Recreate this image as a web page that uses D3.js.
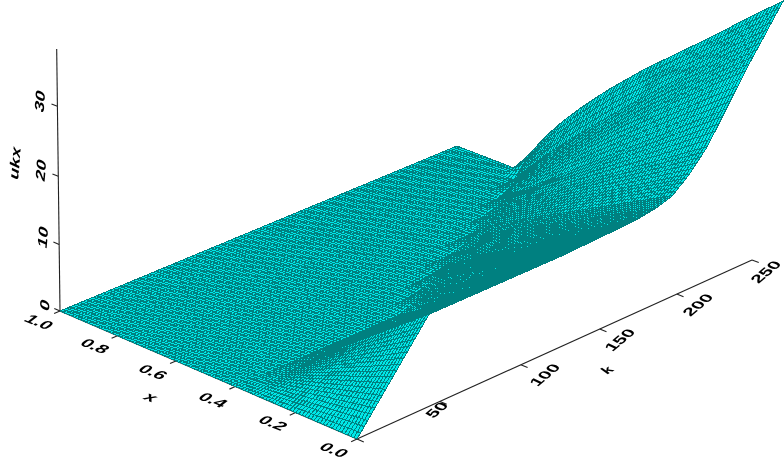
<!DOCTYPE html>
<html><head><meta charset="utf-8">
<script src="https://cdn.jsdelivr.net/npm/d3@7"></script>
<style>html,body{margin:0;padding:0;background:#fff}svg{display:block}
text{font-family:"Liberation Sans",Arial,sans-serif;font-weight:bold;fill:#000;text-anchor:middle;dominant-baseline:central}</style>
</head><body><script>
const kValues=[0,10,20,30,40,50,60,70,80,90,100,110,120,130,140,150,160,170,180,190,200,210,220,230,240,250];
const xValues=[0,.05,.1,.15,.2,.25,.3,.35,.4,.45,.5,.55,.6,.65,.7,.75,.8,.85,.9,.95,1];
const uRows=[
[0,0,0,0,0,0,0,0,0,0,0,0,0,0,0,0,0,0,0,0,0],
[3.5,3.04,2.58,2.12,1.66,1.2,.74,.28,0,0,0,0,0,0,0,0,0,0,0,0,0],
[7,6.08,5.16,4.24,3.32,2.39,1.47,.55,0,0,0,0,0,0,0,0,0,0,0,0,0],
[10.5,9.12,7.74,6.36,4.97,3.59,2.21,.83,0,0,0,0,0,0,0,0,0,0,0,0,0],
[14,12.16,10.32,8.47,6.63,4.79,2.95,1.11,0,0,0,0,0,0,0,0,0,0,0,0,0],
[14,12.16,10.32,8.47,6.63,4.79,2.95,1.11,0,0,0,0,0,0,0,0,0,0,0,0,0],
[14,12.16,10.32,8.47,6.63,4.79,2.95,1.11,0,0,0,0,0,0,0,0,0,0,0,0,0],
[14,12.16,10.32,8.47,6.63,4.79,2.95,1.11,0,0,0,0,0,0,0,0,0,0,0,0,0],
[14,12.16,10.32,8.47,6.63,4.79,2.95,1.11,0,0,0,0,0,0,0,0,0,0,0,0,0],
[14,12.16,10.32,8.47,6.63,4.79,2.95,1.11,0,0,0,0,0,0,0,0,0,0,0,0,0],
[14,12.2,10.4,8.6,6.8,5.1,3.3,1.5,0,0,0,0,0,0,0,0,0,0,0,0,0],
[14,12.37,10.74,9.12,7.49,5.86,4.23,2.6,.98,0,0,0,0,0,0,0,0,0,0,0,0],
[14,12.48,10.96,9.43,7.91,6.39,4.87,3.35,1.83,.3,0,0,0,0,0,0,0,0,0,0,0],
[14.1,12.66,11.22,9.78,8.34,6.9,5.47,4.03,2.59,1.15,0,0,0,0,0,0,0,0,0,0,0],
[14.2,12.81,11.42,10.02,8.63,7.24,5.85,4.46,3.07,1.67,.28,0,0,0,0,0,0,0,0,0,0],
[14.3,12.95,11.6,10.25,8.9,7.55,6.2,4.85,3.5,2.15,.8,0,0,0,0,0,0,0,0,0,0],
[14.4,13.1,11.8,10.5,9.2,7.9,6.6,5.3,4,2.7,1.4,.1,0,0,0,0,0,0,0,0,0],
[14.6,13.34,12.08,10.82,9.56,8.3,7.04,5.78,4.52,3.26,2,.74,0,0,0,0,0,0,0,0,0],
[15,13.75,12.5,11.25,10,8.75,7.5,6.25,5,3.75,2.5,1.25,0,0,0,0,0,0,0,0,0],
[15.8,14.54,13.27,12.01,10.74,9.48,8.22,6.95,5.69,4.42,3.16,1.9,.63,0,0,0,0,0,0,0,0],
[18,16.62,15.23,13.85,12.46,11.08,9.69,8.31,6.92,5.54,4.15,2.77,1.38,0,0,0,0,0,0,0,0],
[21,19.44,17.89,16.33,14.78,13.22,11.67,10.11,8.56,7,5.44,3.89,2.33,.78,0,0,0,0,0,0,0],
[25.5,23.6,21.8,20,18.1,16.3,14.5,12.7,10.8,9,7.2,5.3,3.5,1.7,0,0,0,0,0,0,0],
[30,28.1,26.2,24.2,22.3,20.3,18.3,16.3,14.2,12.1,10,7.9,5.8,3.6,1.3,0,0,0,0,0,0],
[34,32,30,27.9,25.8,23.7,21.6,19.4,17.2,15,12.7,10.4,8,5.6,2.9,0,0,0,0,0,0],
[38,36,34,31.9,29.8,27.8,25.8,23.8,21.8,19.6,17.4,15,12.5,9.8,6.8,3.2,0,0,0,0,0]
];
const kTicks=[0,50,100,150,200,250];
const xTicks=[0,.2,.4,.6,.8,1];
const uTicks=[0,10,20,30];
const uAxisMax=38;

const W=784,H=466;
const svg=d3.select("body").append("svg").attr("width",W).attr("height",H);
const defs=svg.append("defs");
defs.append("filter").attr("id","soft").append("feGaussianBlur").attr("stdDeviation",.45);
const kS=d3.scaleLinear().domain([0,250]).range([0,1]);
const xS=d3.scaleLinear().domain([0,1]).range([0,1]);
const uS=d3.scaleLinear().domain([0,uAxisMax]).range([0,1]);

const Q=[[357,439],[752,260],[457,146],[60,311]];
const dx1=Q[1][0]-Q[2][0],dx2=Q[3][0]-Q[2][0],sx=Q[0][0]-Q[1][0]+Q[2][0]-Q[3][0];
const dy1=Q[1][1]-Q[2][1],dy2=Q[3][1]-Q[2][1],sy=Q[0][1]-Q[1][1]+Q[2][1]-Q[3][1];
const det=dx1*dy2-dx2*dy1,g=(sx*dy2-dx2*sy)/det,h=(dx1*sy-sx*dy1)/det;
const m={a:Q[1][0]-Q[0][0]+g*Q[1][0],b:Q[3][0]-Q[0][0]+h*Q[3][0],c:Q[0][0],
         d:Q[1][1]-Q[0][1]+g*Q[1][1],e:Q[3][1]-Q[0][1]+h*Q[3][1],f:Q[0][1]};
const VP=[125,5450],W3=h+1,s=-262*W3/(311-49+5450-311);
function proj(k,x,u){
  const a=kS(k),b=xS(x),c=uS(u);
  const w=g*a+h*b+1+c*s;
  return [(m.a*a+m.b*b+m.c+c*s*VP[0])/w,(m.d*a+m.e*b+m.f+c*s*VP[1])/w];
}
const line=(p,q)=>svg.append("line").attr("x1",p[0]).attr("y1",p[1]).attr("x2",q[0]).attr("y2",q[1])
  .attr("stroke","#222").attr("stroke-width",1.1);

line(proj(0,1,0),proj(0,0,0));
line(proj(0,0,0),proj(250,0,0));
line(proj(0,1,0),proj(0,1,uAxisMax));
xTicks.forEach(t=>line(proj(0,t,0),proj(-3.5,t,0)));
kTicks.forEach(t=>line(proj(t,0,0),proj(t,-.022,0)));
uTicks.forEach(t=>line(proj(0,1,t),proj(0,1.02,t)));

const sub=5,cells=[];
const uAt=(i,j,fi,fj)=>{
  const r0=uRows[i],r1=uRows[Math.min(i+1,kValues.length-1)];
  const c=Math.min(j+1,xValues.length-1);
  return (r0[j]*(1-fj)+r0[c]*fj)*(1-fi)+(r1[j]*(1-fj)+r1[c]*fj)*fi;
};
const node=(I,J)=>{
  const i=Math.floor(I/sub),j=Math.floor(J/sub),fi=I/sub-i,fj=J/sub-j;
  const k=kValues[i]+(fi?(kValues[i+1]-kValues[i])*fi:0);
  const x=xValues[j]+(fj?(xValues[j+1]-xValues[j])*fj:0);
  return proj(k,x,uAt(i,j,fi,fj));
};
const nK=(kValues.length-1)*sub,nX=(xValues.length-1)*sub;
for(let I=0;I<nK;I++)for(let J=0;J<nX;J++){
  cells.push({o:I/nK+J/nX,p:[node(I,J),node(I+1,J),node(I+1,J+1),node(I,J+1)]});
}
cells.sort((a,b)=>d3.descending(a.o,b.o));
svg.append("g").attr("shape-rendering","crispEdges").selectAll("polygon").data(cells).join("polygon")
  .attr("points",d=>d.p.map(q=>q[0].toFixed(1)+","+q[1].toFixed(1)).join(" "))
  .attr("fill","#00e8e8").attr("stroke","#008080").attr("stroke-width",1);

const labels=svg.append("g").attr("filter","url(#soft)");
const label=(str,x,y,rot,skew,size)=>labels.append("text").text(str)
  .attr("transform",`translate(${x},${y}) rotate(${rot}) skewX(${skew}) scale(1.25,.9)`).attr("font-size",size);
const fmtX=d3.format(".1f");
const xPos=[[334,450],[273,423],[213,400],[153,372],[95,346],[39,322]];
xTicks.forEach((t,i)=>label(fmtX(t),xPos[i][0],xPos[i][1],22,-30,15));
const kPos=[null,[437,410],[545,375],[620,340],[698,305],[766,272]];
kTicks.forEach((t,i)=>{if(kPos[i])label(String(t),kPos[i][0],kPos[i][1],-40,25,15)});
const uPos=[[45,305],[43,237],[41,170],[40,101]];
uTicks.forEach((t,i)=>label(String(t),uPos[i][0],uPos[i][1],-85,-20,15));
label("ukx",15,163,-85,-20,15);
label("x",151,397,22,-30,15);
label("k",607,370,-30,25,13);
</script></body></html>
